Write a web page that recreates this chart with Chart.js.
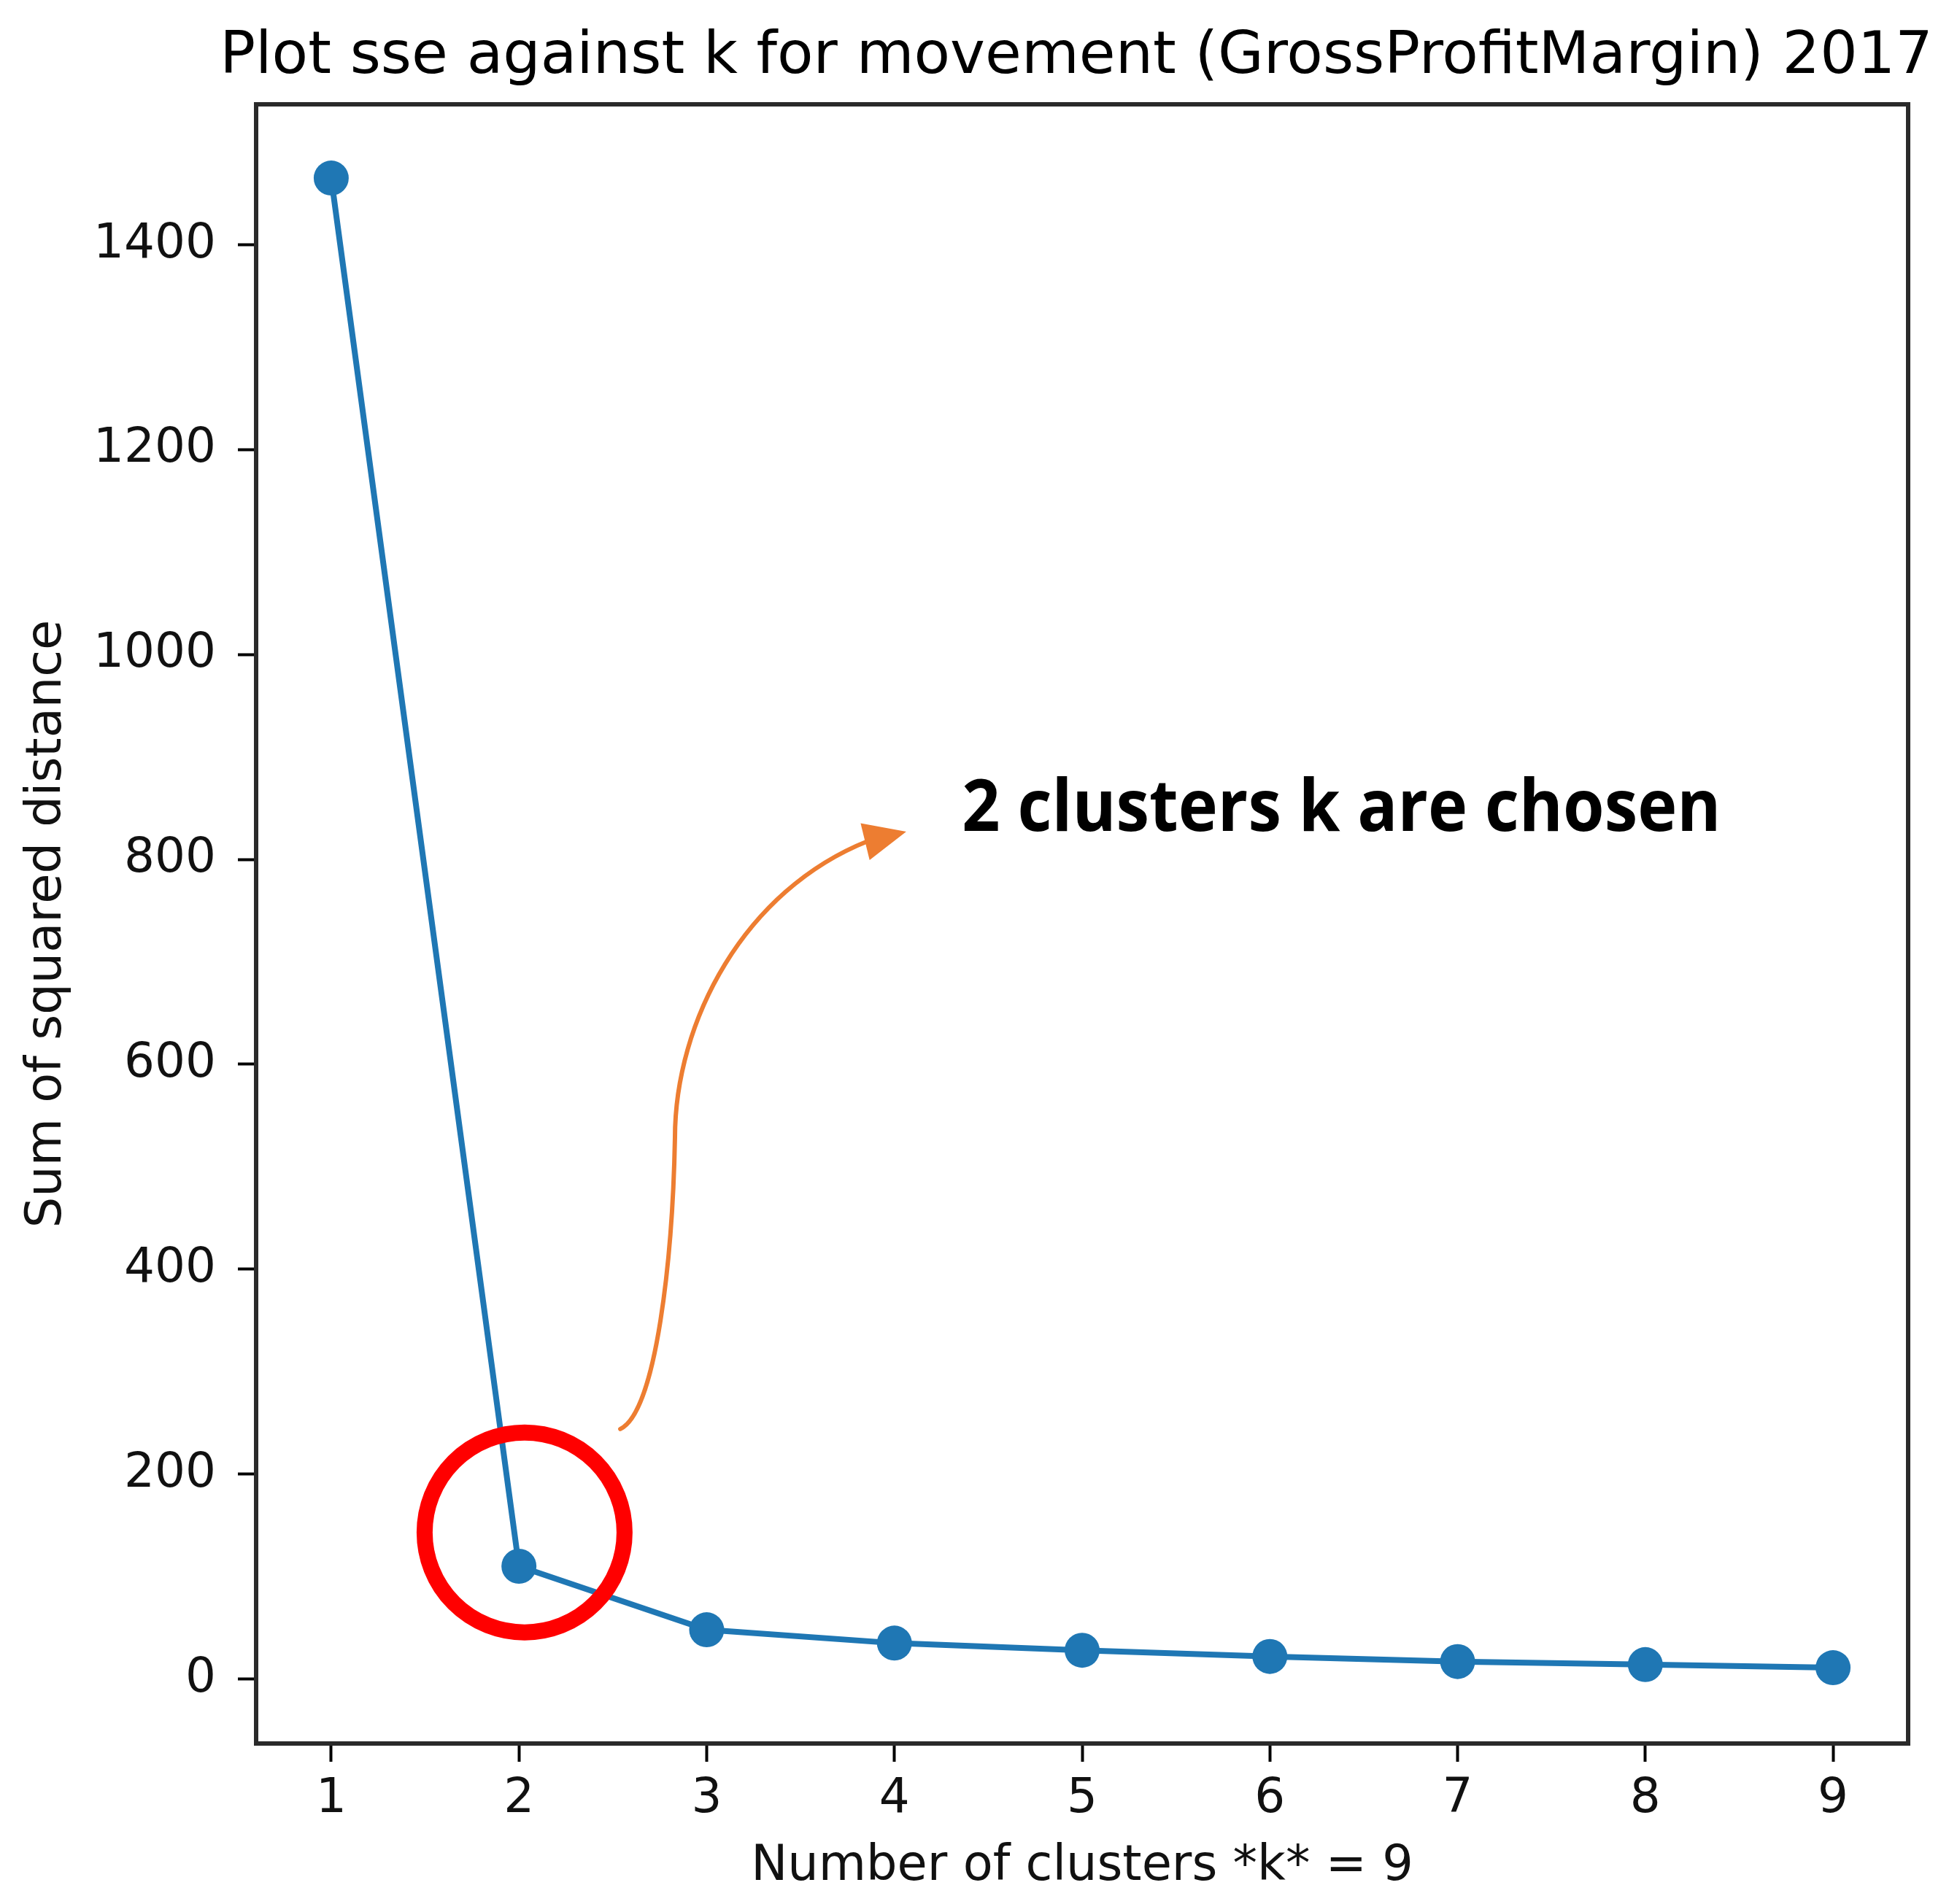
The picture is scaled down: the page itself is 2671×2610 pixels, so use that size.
<!DOCTYPE html>
<html>
<head>
<meta charset="utf-8">
<script src="https://cdn.jsdelivr.net/npm/chart.js@4.4.0/dist/chart.umd.min.js"></script>
<style>
  body { margin: 0; background: #fff; }
  #wrap { width: 2671px; height: 2610px; }
</style>
</head>
<body>
<div id="wrap"><canvas id="grafico" width="2671" height="2610"></canvas></div>
<script>
// dados
const kValores = [1, 2, 3, 4, 5, 6, 7, 8, 9];
const sseValores = [1465, 110, 48, 35, 28, 22, 17, 14, 11];
const yTicks = [0, 200, 400, 600, 800, 1000, 1200, 1400];
const tituloGrafico = 'Plot sse against k for movement (GrossProfitMargin) 2017';
const tituloX = 'Number of clusters *k* = 9';
const tituloY = 'Sum of squared distance';
const textoNota = '2 clusters k are chosen';

// anotações (em coordenadas dos dados)
const circuloCentro = [2.03, 143];
const notaPos = [4.36, 828];
const setaInicio = [2.54, 244];
const setaCurva1 = [[2.734, 261], [2.819, 414], [2.831, 528]];
const setaCurva2 = [[2.831, 642], [3.2, 770], [3.861, 818]];
const setaPonta = [4.063, 827];

const fonte = 'DejaVu Sans';

const pluginExtras = {
  id: 'extras',
  afterDatasetsDraw(chart) {
    const ctx = chart.ctx;
    const x = chart.scales.x, y = chart.scales.y;
    const px = (p) => [x.getPixelForValue(p[0]), y.getPixelForValue(p[1])];

    // círculo vermelho
    ctx.save();
    const c = px(circuloCentro);
    ctx.beginPath();
    ctx.arc(c[0], c[1], 137, 0, Math.PI * 2);
    ctx.strokeStyle = '#ff0000';
    ctx.lineWidth = 22;
    ctx.stroke();

    // seta laranja
    const s0 = px(setaInicio);
    const a = setaCurva1.map(px);
    const b = setaCurva2.map(px);
    const tip = px(setaPonta);
    ctx.beginPath();
    ctx.moveTo(s0[0], s0[1]);
    ctx.bezierCurveTo(a[0][0], a[0][1], a[1][0], a[1][1], a[2][0], a[2][1]);
    ctx.bezierCurveTo(b[0][0], b[0][1], b[1][0], b[1][1], b[2][0], b[2][1]);
    ctx.strokeStyle = '#ed7d31';
    ctx.lineWidth = 6;
    ctx.lineCap = 'round';
    ctx.stroke();
    const ang = Math.atan2(tip[1] - b[2][1], tip[0] - b[2][0]);
    ctx.translate(tip[0], tip[1]);
    ctx.rotate(ang);
    ctx.beginPath();
    ctx.moveTo(0, 0);
    ctx.lineTo(-58, -26);
    ctx.lineTo(-58, 26);
    ctx.closePath();
    ctx.fillStyle = '#ed7d31';
    ctx.fill();
    ctx.restore();

    // texto da anotação
    ctx.save();
    const t = px(notaPos);
    ctx.font = 'bold 98px "Open Sans"';
    ctx.fillStyle = '#000';
    ctx.textBaseline = 'alphabetic';
    const w = ctx.measureText(textoNota).width;
    ctx.translate(t[0], t[1]);
    ctx.scale(1040 / w, 1);
    ctx.fillText(textoNota, 0, 0);
    ctx.restore();
  },
  afterDraw(chart) {
    const ctx = chart.ctx;
    const area = chart.chartArea;
    ctx.save();
    // moldura
    ctx.strokeStyle = '#2a2a2a';
    ctx.lineWidth = 6;
    ctx.strokeRect(area.left, area.top, area.right - area.left, area.bottom - area.top);
    // título
    ctx.font = '81px "' + fonte + '"';
    ctx.fillStyle = '#000';
    ctx.textAlign = 'center';
    ctx.textBaseline = 'alphabetic';
    ctx.fillText(tituloGrafico, 1475, 100);
    ctx.restore();
  }
};

const ctx = document.getElementById('grafico').getContext('2d');
const chart = new Chart(ctx, {
  type: 'line',
  data: {
    datasets: [
      {
        data: kValores.map((k, i) => ({ x: k, y: sseValores[i] })),
        borderColor: '#1f77b4',
        backgroundColor: '#1f77b4',
        borderWidth: 8,
        pointRadius: 24,
        pointBorderWidth: 0,
        pointBackgroundColor: '#1f77b4',
        tension: 0,
      },
    ],
  },
  options: {
    responsive: false,
    animation: false,
    devicePixelRatio: 1,
    layout: { padding: { top: 143, right: 56, left: 0, bottom: 0 } },
    plugins: { legend: { display: false }, tooltip: { enabled: false } },
    scales: {
      x: {
        type: 'linear',
        min: 0.6,
        max: 9.4,
        afterBuildTicks: (scale) => { scale.ticks = kValores.map((v) => ({ value: v })); },
        afterFit: (scale) => { scale.height = 220; },
        border: { display: false },
        grid: { display: true, drawOnChartArea: false, drawTicks: true, tickLength: 25, tickColor: '#000', tickWidth: 4 },
        ticks: { color: '#111', font: { family: fonte, size: 66 }, padding: 12, maxRotation: 0, autoSkip: false, callback: (v) => String(v) },
        title: { display: true, text: tituloX, color: '#111', font: { family: fonte, size: 67 }, padding: { top: 0, bottom: 10 } },
      },
      y: {
        type: 'linear',
        min: -63,
        max: 1537,
        afterBuildTicks: (scale) => { scale.ticks = yTicks.map((v) => ({ value: v })); },
        afterFit: (scale) => { scale.width = 351; },
        border: { display: false },
        grid: { display: true, drawOnChartArea: false, drawTicks: true, tickLength: 25, tickColor: '#000', tickWidth: 4 },
        ticks: { color: '#111', font: { family: fonte, size: 66 }, padding: 30, autoSkip: false, callback: (v) => String(v) },
        title: { display: true, text: tituloY, color: '#111', font: { family: fonte, size: 67 }, padding: { top: 25, bottom: 0 } },
      },
    },
  },
  plugins: [pluginExtras],
});
</script>
</body>
</html>
